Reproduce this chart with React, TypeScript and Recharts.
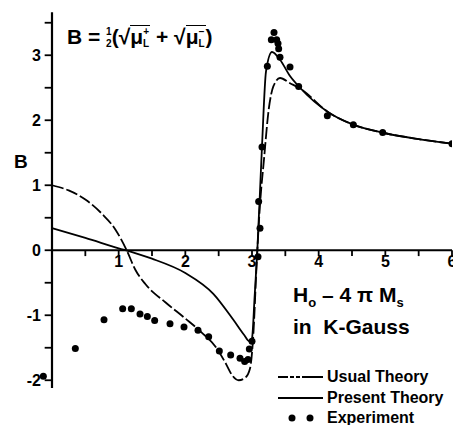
import React from 'react';
import { ComposedChart, Line, Scatter, XAxis, YAxis, ReferenceLine, ReferenceDot } from 'recharts';

// H0 - 4piMs (kGauss) vs B
const usualTheory = [
  { h: 0, b: 1.0 }, { h: 0.25, b: 0.92 }, { h: 0.5, b: 0.78 }, { h: 0.75, b: 0.56 },
  { h: 0.95, b: 0.32 }, { h: 1.12, b: 0.0 }, { h: 1.25, b: -0.3 }, { h: 1.4, b: -0.52 },
  { h: 1.7, b: -0.8 }, { h: 2.0, b: -1.05 }, { h: 2.25, b: -1.27 }, { h: 2.45, b: -1.48 },
  { h: 2.6, b: -1.73 }, { h: 2.7, b: -1.92 }, { h: 2.8, b: -2.0 }, { h: 2.9, b: -1.96 },
  { h: 2.97, b: -1.82 }, { h: 3.02, b: -1.3 }, { h: 3.07, b: -0.2 }, { h: 3.12, b: 0.7 },
  { h: 3.18, b: 1.4 }, { h: 3.25, b: 2.16 }, { h: 3.32, b: 2.52 }, { h: 3.42, b: 2.65 },
  { h: 3.57, b: 2.57 }, { h: 3.72, b: 2.49 }, { h: 4.15, b: 2.12 }, { h: 4.5, b: 1.94 },
  { h: 5.0, b: 1.8 }, { h: 5.5, b: 1.71 }, { h: 6.0, b: 1.64 },
];

const presentTheory = [
  { h: 0, b: 0.34 }, { h: 0.5, b: 0.19 }, { h: 1.0, b: 0.03 }, { h: 1.2, b: -0.03 },
  { h: 1.5, b: -0.13 }, { h: 2.0, b: -0.35 }, { h: 2.42, b: -0.67 }, { h: 2.72, b: -1.07 },
  { h: 2.88, b: -1.3 }, { h: 2.96, b: -1.4 }, { h: 3.0, b: -1.35 }, { h: 3.04, b: -0.7 },
  { h: 3.08, b: 0.0 }, { h: 3.15, b: 1.6 }, { h: 3.21, b: 2.75 }, { h: 3.3, b: 3.05 },
  { h: 3.42, b: 2.93 }, { h: 3.57, b: 2.68 }, { h: 3.72, b: 2.5 }, { h: 4.15, b: 2.12 },
  { h: 4.5, b: 1.94 }, { h: 5.0, b: 1.8 }, { h: 5.5, b: 1.71 }, { h: 6.0, b: 1.64 },
];

const experiment = [
  { h: -0.13, b: -1.94 }, { h: 0.35, b: -1.51 }, { h: 0.78, b: -1.07 }, { h: 1.06, b: -0.9 },
  { h: 1.19, b: -0.9 }, { h: 1.32, b: -0.98 }, { h: 1.43, b: -1.02 }, { h: 1.54, b: -1.08 },
  { h: 1.77, b: -1.13 }, { h: 1.98, b: -1.18 }, { h: 2.19, b: -1.23 }, { h: 2.35, b: -1.33 },
  { h: 2.51, b: -1.55 }, { h: 2.68, b: -1.61 }, { h: 2.82, b: -1.66 }, { h: 2.89, b: -1.71 },
  { h: 2.94, b: -1.68 }, { h: 2.96, b: -1.52 }, { h: 3.0, b: -1.4 }, { h: 3.09, b: -0.1 },
  { h: 3.1, b: 0.75 }, { h: 3.12, b: 0.34 }, { h: 3.15, b: 1.59 }, { h: 3.23, b: 2.83 },
  { h: 3.29, b: 3.24 }, { h: 3.33, b: 3.35 }, { h: 3.37, b: 3.24 }, { h: 3.39, b: 3.18 },
  { h: 3.4, b: 3.1 }, { h: 3.42, b: 2.97 }, { h: 3.57, b: 2.82 }, { h: 3.7, b: 2.52 },
  { h: 4.13, b: 2.07 }, { h: 4.52, b: 1.93 }, { h: 4.96, b: 1.81 }, { h: 6.0, b: 1.64 },
];

const yTicks = [-2, -1.5, -1, -0.5, 0, 0.5, 1, 1.5, 2, 2.5, 3, 3.5];
const yLabels = [-2, -1, 0, 1, 2, 3];
const xTicks = [0.5, 1, 1.5, 2, 2.5, 3, 3.5, 4, 4.5, 5, 5.5, 6];
const xLabels = [1, 2, 3, 4, 5, 6];

const font = '"Liberation Sans", Arial, sans-serif';
const dash = '12 3';

const labelStyle = { fill: '#000', fontSize: 16, fontWeight: 700, fontFamily: font };

// stacked small glyphs (fraction, sup over sub)
const Stack = ({ top, bottom }: { top: string; bottom: string }) => (
  <span style={{ display: 'inline-flex', flexDirection: 'column', fontSize: 10, lineHeight: '12px', verticalAlign: 'middle', textAlign: 'center' }}>
    <span>{top}</span>
    <span>{bottom}</span>
  </span>
);

const Mu = ({ sign }: { sign: string }) => (
  <span style={{ display: 'inline-block', borderTop: '1.6px solid #000', lineHeight: '22px', paddingRight: 1 }}>
    μ<Stack top={sign} bottom="L" />
  </span>
);

export default function App() {
  return (
    <div style={{ position: 'relative', width: 453, height: 425, background: '#fff', fontFamily: font }}>
      <style>{'body{margin:0}'}</style>
      <ComposedChart width={453} height={425} margin={{ top: 13, right: 1, bottom: 35, left: 32 }}>
        <XAxis dataKey="h" type="number" domain={[-0.3, 6]} hide allowDataOverflow />
        <YAxis type="number" domain={[-2.15, 3.65]} hide allowDataOverflow />

        <ReferenceLine segment={[{ x: 0, y: -2.12 }, { x: 0, y: 3.66 }]} stroke="#000" strokeWidth={2.2} ifOverflow="visible" />
        <ReferenceLine segment={[{ x: 0, y: 0 }, { x: 6, y: 0 }]} stroke="#000" strokeWidth={2} ifOverflow="visible" />
        {yTicks.map((v) => (
          <ReferenceLine key={'yt' + v} segment={[{ x: -0.11, y: v }, { x: 0, y: v }]} stroke="#000" strokeWidth={1.8} ifOverflow="visible" />
        ))}
        {xTicks.map((v) => (
          <ReferenceLine key={'xt' + v} segment={[{ x: v, y: 0 }, { x: v, y: -0.09 }]} stroke="#000" strokeWidth={1.8} ifOverflow="visible" />
        ))}
        {yLabels.map((v) => (
          <ReferenceDot key={'yl' + v} x={0} y={v} r={0} fill="none" stroke="none" ifOverflow="visible"
            label={{ value: String(v), position: 'left', offset: 11, ...labelStyle }} />
        ))}
        {xLabels.map((v) => (
          <ReferenceDot key={'xl' + v} x={v} y={0} r={0} fill="none" stroke="none" ifOverflow="visible"
            label={{ value: String(v), position: 'bottom', offset: 5, ...labelStyle }} />
        ))}

        <Line data={usualTheory} dataKey="b" type="monotone" stroke="#000" strokeWidth={1.8}
          strokeDasharray={dash} dot={false} isAnimationActive={false} />
        <Line data={presentTheory} dataKey="b" type="monotone" stroke="#000" strokeWidth={1.8}
          dot={false} isAnimationActive={false} />
        <Scatter data={experiment} dataKey="b" fill="#000" isAnimationActive={false}
          shape={(p: any) => <circle cx={p.cx} cy={p.cy} r={3.5} fill="#000" />} />
      </ComposedChart>

      <div style={{ position: 'absolute', left: 14, top: 151, fontSize: 19, fontWeight: 700 }}>B</div>

      <div style={{ position: 'absolute', left: 67, top: 25, fontSize: 21, fontWeight: 700, whiteSpace: 'nowrap', lineHeight: '24px' }}>
        B = <Stack top="1" bottom="2" />(√<Mu sign="+" /> + √<Mu sign="−" />)
      </div>

      <div style={{ position: 'absolute', left: 293, top: 283, fontSize: 21, fontWeight: 700, lineHeight: '24px', whiteSpace: 'nowrap' }}>
        <div>H<sub style={{ fontSize: 13 }}>o</sub> – 4 π M<sub style={{ fontSize: 13 }}>s</sub></div>
        <div>in&nbsp; K-Gauss</div>
      </div>

      <div style={{ position: 'absolute', left: 277, top: 367, fontSize: 16, fontWeight: 700, lineHeight: '20.5px', whiteSpace: 'nowrap' }}>
        <div style={{ display: 'flex', alignItems: 'center' }}>
          <svg width={47} height={6}><line x1={1} y1={3} x2={46} y2={3} stroke="#000" strokeWidth={1.8} strokeDasharray="10 2 4 2 4 2 30" /></svg>
          <span style={{ marginLeft: 3 }}>Usual Theory</span>
        </div>
        <div style={{ display: 'flex', alignItems: 'center' }}>
          <svg width={47} height={6}><line x1={1} y1={3} x2={46} y2={3} stroke="#000" strokeWidth={1.8} /></svg>
          <span style={{ marginLeft: 3 }}>Present Theory</span>
        </div>
        <div style={{ display: 'flex', alignItems: 'center' }}>
          <svg width={47} height={8}><circle cx={15} cy={4} r={3.5} fill="#000" /><circle cx={33} cy={4} r={3.5} fill="#000" /></svg>
          <span style={{ marginLeft: 3 }}>Experiment</span>
        </div>
      </div>
    </div>
  );
}
